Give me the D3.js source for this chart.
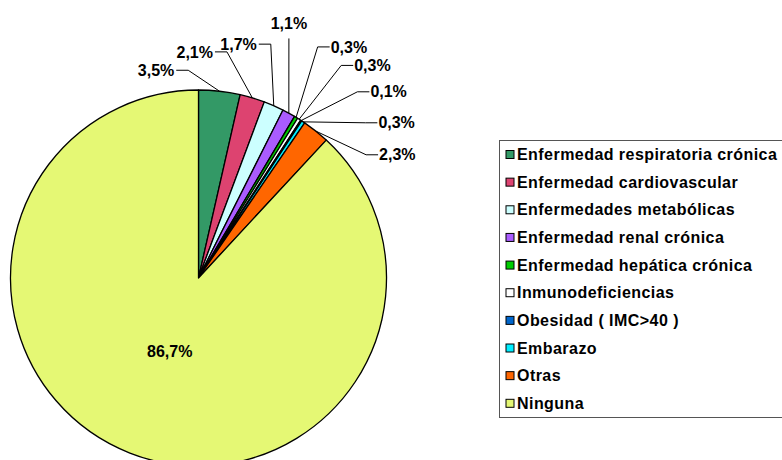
<!DOCTYPE html>
<html>
<head>
<meta charset="utf-8">
<script src="https://cdn.jsdelivr.net/npm/d3@7"></script>
<style>
  body { margin: 0; background: #fff; }
  text { font-family: "Liberation Sans", Arial, sans-serif; font-weight: bold; font-size: 16px; fill: #000; }
</style>
</head>
<body>
<svg id="chart" width="782" height="460"></svg>
<script>
const categories = [
  "Enfermedad respiratoria crónica",
  "Enfermedad cardiovascular",
  "Enfermedades metabólicas",
  "Enfermedad renal crónica",
  "Enfermedad hepática crónica",
  "Inmunodeficiencias",
  "Obesidad ( IMC>40 )",
  "Embarazo",
  "Otras",
  "Ninguna"
]
const values = [3.5, 2.1, 1.7, 1.1, 0.3, 0.3, 0.1, 0.3, 2.3, 86.7]
const colors = ["#339966", "#dd4370", "#ccffff", "#aa5cff", "#00cc00", "#ffffff", "#0066cc", "#00eeff", "#ff6600", "#e5f874"]

const rows = categories.map((c, i) => ({ name: c, value: values[i], color: colors[i] }))

const esLocale = d3.formatLocale({ decimal: ",", thousands: ".", grouping: [3], currency: ["", " €"] })
const fmt = (v) => esLocale.format(".1f")(v) + "%"

const cx = 198.5, cy = 278, r = 188

const svg = d3.select('#chart')

const pie = d3.pie().sort(null).value((d) => d.value)
const arcs = pie(rows)

const arc = d3.arc().innerRadius(0).outerRadius(r)
const edgeArc = d3.arc().innerRadius(r).outerRadius(r)
const innerLabelArc = d3.arc().innerRadius(0).outerRadius(r * 0.84)

const gPie = svg.append('g').attr('transform', `translate(${cx},${cy})`)

gPie.selectAll('path')
  .data(arcs)
  .enter()
  .append('path')
  .attr('d', arc)
  .attr('fill', (d) => d.data.color)
  .attr('stroke', '#000')
  .attr('stroke-width', 1.3)
  .attr('stroke-linejoin', 'round')

// big slice gets its label inside
const inside = arcs.filter((a) => a.data.value > 50)
gPie.selectAll('text.inside')
  .data(inside)
  .enter()
  .append('text')
  .attr('class', 'inside')
  .attr('transform', (d) => `translate(${innerLabelArc.centroid(d)})`)
  .attr('text-anchor', 'middle')
  .attr('dy', '0.35em')
  .text((d) => fmt(d.data.value))

// small slices: spread label angles apart keeping order (pool adjacent violators)
const outside = arcs.filter((a) => a.data.value <= 50)
const mids = outside.map((a) => (a.startAngle + a.endAngle) / 2)
const n = outside.length
const rad = Math.PI / 180

function spreadAngles(gaps) {
  const offs = [0]
  gaps.forEach((g, i) => offs.push(offs[i] + g))
  const blocks = []
  mids.forEach((m, i) => {
    blocks.push({ sum: m - offs[i], n: 1 })
    while (blocks.length > 1) {
      const b = blocks[blocks.length - 1], a = blocks[blocks.length - 2]
      if (a.sum / a.n > b.sum / b.n) {
        blocks.pop()
        a.sum += b.sum
        a.n += b.n
      } else break
    }
  })
  const out = []
  blocks.forEach((b) => { for (let k = 0; k < b.n; k++) out.push(b.sum / b.n) })
  return out.map((v, i) => v + offs[i])
}

const sideOf = (ang) => {
  const deg = ang / rad
  return deg < 17 ? 'left' : deg < 23 ? 'top' : 'right'
}

// first pass with an even gap to decide which side each label sits on
const first = spreadAngles(d3.range(n - 1).map(() => 7.2 * rad))
const sides = first.map(sideOf)
// second pass: labels side by side need more room than stacked ones
const pairGap = (a, b) => {
  if (a === 'left' && b === 'left') return 10
  if (b === 'top') return 3.5
  return 6.6
}
const gaps = d3.range(n - 1).map((i) => pairGap(sides[i], sides[i + 1]) * rad)
const angles = spreadAngles(gaps)

outside.forEach((a, i) => {
  const ang = angles[i]
  const rl = r + 20 + 52 * Math.sin(Math.PI * i / (n - 1))
  const corner = [rl * Math.sin(ang), -rl * Math.cos(ang)]
  const edge = edgeArc.centroid(a)
  let pts, tx, ty, anchor
  if (sides[i] === 'left') {
    pts = [edge, corner, [corner[0] - 12, corner[1]]]
    tx = corner[0] - 14; ty = corner[1]; anchor = 'end'
  } else if (sides[i] === 'top') {
    pts = [edge, corner]
    tx = corner[0]; ty = corner[1] - 15; anchor = 'middle'
  } else {
    pts = [edge, corner, [corner[0] + 12, corner[1]]]
    tx = corner[0] + 13; ty = corner[1]; anchor = 'start'
  }
  gPie.append('path')
    .attr('d', d3.line()(pts))
    .attr('fill', 'none')
    .attr('stroke', '#000')
    .attr('stroke-width', 1)
  gPie.append('text')
    .attr('x', tx)
    .attr('y', ty)
    .attr('dy', '0.35em')
    .attr('text-anchor', anchor)
    .text(fmt(a.data.value))
})

// legend
const legY = d3.scalePoint().domain(categories).range([154.5, 403.3])

svg.append('rect')
  .attr('x', 499.5)
  .attr('y', 140.5)
  .attr('width', 300)
  .attr('height', 277)
  .attr('fill', '#fff')
  .attr('stroke', '#555')
  .attr('stroke-width', 1)

const legItem = svg.append('g')
  .selectAll('g')
  .data(rows)
  .enter()
  .append('g')
  .attr('transform', (d) => `translate(0,${legY(d.name)})`)

legItem.append('rect')
  .attr('x', 506)
  .attr('y', -4)
  .attr('width', 8)
  .attr('height', 8)
  .attr('fill', (d) => d.color)
  .attr('stroke', '#000')
  .attr('stroke-width', 1)

legItem.append('text')
  .attr('x', 517)
  .attr('dy', '0.35em')
  .attr('letter-spacing', '0.45px')
  .text((d) => d.name)
</script>
</body>
</html>
